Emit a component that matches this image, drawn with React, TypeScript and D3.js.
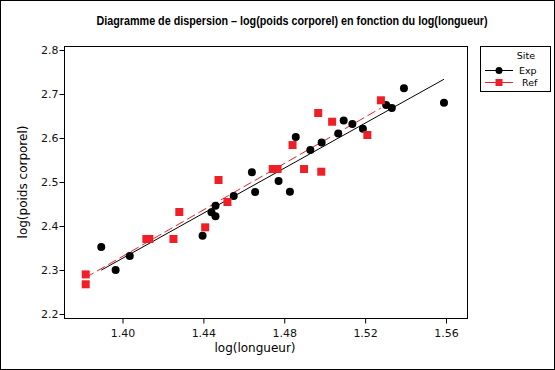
import React, { useEffect, useRef } from 'react';
import * as d3 from 'd3';

// Exp site: [log(longueur), log(poids corporel)]
const expX = [1.3895, 1.3966, 1.4036, 1.4396, 1.444, 1.446, 1.446, 1.455, 1.464, 1.4656, 1.4772, 1.4828,
  1.4857, 1.4929, 1.4985, 1.5067, 1.5094, 1.5137, 1.5189, 1.5304, 1.5332, 1.5392, 1.559];
const expY = [2.352, 2.3, 2.332, 2.378, 2.431, 2.446, 2.422, 2.468, 2.522, 2.477, 2.502, 2.478,
  2.602, 2.573, 2.59, 2.61, 2.64, 2.632, 2.621, 2.675, 2.668, 2.713, 2.68];

// Ref site
const refX = [1.3818, 1.3818, 1.4118, 1.4133, 1.4252, 1.4281, 1.4409, 1.4475, 1.4519, 1.4743, 1.4767,
  1.4841, 1.4898, 1.4968, 1.4983, 1.5037, 1.5211, 1.5278];
const refY = [2.29, 2.2675, 2.3705, 2.3705, 2.3705, 2.4318, 2.397, 2.5045, 2.4545, 2.5295, 2.5295,
  2.584, 2.5295, 2.6568, 2.5234, 2.637, 2.6068, 2.6857];

const xTicks = [1.40, 1.44, 1.48, 1.52, 1.56];
const yTicks = [2.2, 2.3, 2.4, 2.5, 2.6, 2.7, 2.8];

const RED = '#ee1f26';

function fit(xs: number[], ys: number[]) {
  const mx = d3.mean(xs) as number;
  const my = d3.mean(ys) as number;
  let sxy = 0, sxx = 0;
  xs.forEach((x, i) => { sxy += (x - mx) * (ys[i] - my); sxx += (x - mx) * (x - mx); });
  const b = sxy / sxx;
  const a = my - b * mx;
  const [x0, x1] = d3.extent(xs) as [number, number];
  return [[x0, a + b * x0], [x1, a + b * x1]] as [number, number][];
}

const Scatter = () => {
  const ref = useRef<SVGSVGElement>(null);

  useEffect(() => {
    document.body.style.margin = '0';
    const svg = d3.select(ref.current);
    svg.selectAll('*').remove();

    const W = 555, H = 370;
    const left = 64, top = 46, right = 467, bottom = 318;

    const x = d3.scaleLinear().domain([1.40, 1.56]).range([122.5, 446]);
    const y = d3.scaleLinear().domain([2.2, 2.8]).range([314, 50]);

    svg.append('rect').attr('x', 0.5).attr('y', 0.5).attr('width', W - 1).attr('height', H - 1)
      .attr('fill', 'white').attr('stroke', 'black');

    svg.append('text').attr('x', 292).attr('y', 25).attr('text-anchor', 'middle')
      .attr('textLength', 391).attr('lengthAdjust', 'spacingAndGlyphs')
      .style('font-family', '"Liberation Sans", Arial, sans-serif').style('font-weight', 'bold')
      .style('font-size', '12.5px').text('Diagramme de dispersion – log(poids corporel) en fonction du log(longueur)');

    svg.append('rect').attr('x', left + 0.5).attr('y', top + 0.5)
      .attr('width', right - left).attr('height', bottom - top)
      .attr('fill', 'none').attr('stroke', 'black');

    // axes
    svg.append('g').attr('transform', `translate(0,${bottom + 0.5})`)
      .call(d3.axisBottom(x).tickValues(xTicks).tickFormat(d3.format('.2f')).tickSize(5).tickSizeOuter(0))
      .call(g => g.select('.domain').remove())
      .call(g => g.selectAll('.tick text').attr('dy', '0.92em')
        .style('font-family', 'DejaVu Sans, Verdana, sans-serif').style('font-size', '11px').attr('fill', '#111'));

    svg.append('g').attr('transform', `translate(${left + 0.5},0)`)
      .call(d3.axisLeft(y).tickValues(yTicks).tickFormat(d3.format('.1f')).tickSize(5).tickSizeOuter(0))
      .call(g => g.select('.domain').remove())
      .call(g => g.selectAll('.tick text').attr('x', -6)
        .style('font-family', 'DejaVu Sans, Verdana, sans-serif').style('font-size', '11px').attr('fill', '#111'));

    svg.append('text').attr('x', 255).attr('y', 352).attr('text-anchor', 'middle')
      .style('font-family', 'DejaVu Sans, Verdana, sans-serif').style('font-size', '12px')
      .text('log(longueur)');

    svg.append('text').attr('transform', `translate(27,182) rotate(-90)`).attr('text-anchor', 'middle')
      .style('font-family', 'DejaVu Sans, Verdana, sans-serif').style('font-size', '12px')
      .text('log(poids corporel)');

    const line = d3.line<[number, number]>().x(d => x(d[0])).y(d => y(d[1]));

    svg.append('path').attr('d', line(fit(expX, expY))).attr('stroke', 'black').attr('stroke-width', 1).attr('fill', 'none');
    svg.append('path').attr('d', line(fit(refX, refY))).attr('stroke', RED).attr('stroke-width', 1)
      .attr('stroke-dasharray', '9,4').attr('fill', 'none');

    svg.append('g').selectAll('circle').data(expX).enter().append('circle')
      .attr('cx', d => x(d)).attr('cy', (d, i) => y(expY[i])).attr('r', 4).attr('fill', 'black');

    const s = 8;
    svg.append('g').selectAll('rect').data(refX).enter().append('rect')
      .attr('x', d => x(d) - s / 2).attr('y', (d, i) => y(refY[i]) - s / 2)
      .attr('width', s).attr('height', s).attr('fill', RED);

    // legend
    const lg = svg.append('g');
    lg.append('rect').attr('x', 480.5).attr('y', 46.5).attr('width', 70).attr('height', 45)
      .attr('fill', 'white').attr('stroke', 'black');
    const lf = (t: any) => t.style('font-family', 'DejaVu Sans, Verdana, sans-serif').style('font-size', '9.5px');
    lg.append('text').attr('x', 535).attr('y', 59).attr('text-anchor', 'end').text('Site').call(lf);
    lg.append('line').attr('x1', 485).attr('x2', 513).attr('y1', 70.5).attr('y2', 70.5).attr('stroke', 'black');
    lg.append('circle').attr('cx', 499).attr('cy', 70.5).attr('r', 3.5).attr('fill', 'black');
    lg.append('text').attr('x', 519).attr('y', 73.5).text('Exp').call(lf);
    lg.append('line').attr('x1', 485).attr('x2', 513).attr('y1', 82.5).attr('y2', 82.5).attr('stroke', RED);
    lg.append('rect').attr('x', 495.5).attr('y', 79).attr('width', 7).attr('height', 7).attr('fill', RED);
    lg.append('text').attr('x', 522).attr('y', 85.5).text('Ref').call(lf);
  }, []);

  return <svg ref={ref} width={555} height={370} style={{ display: 'block' }} />;
};

export default function App() {
  return <Scatter />;
}
